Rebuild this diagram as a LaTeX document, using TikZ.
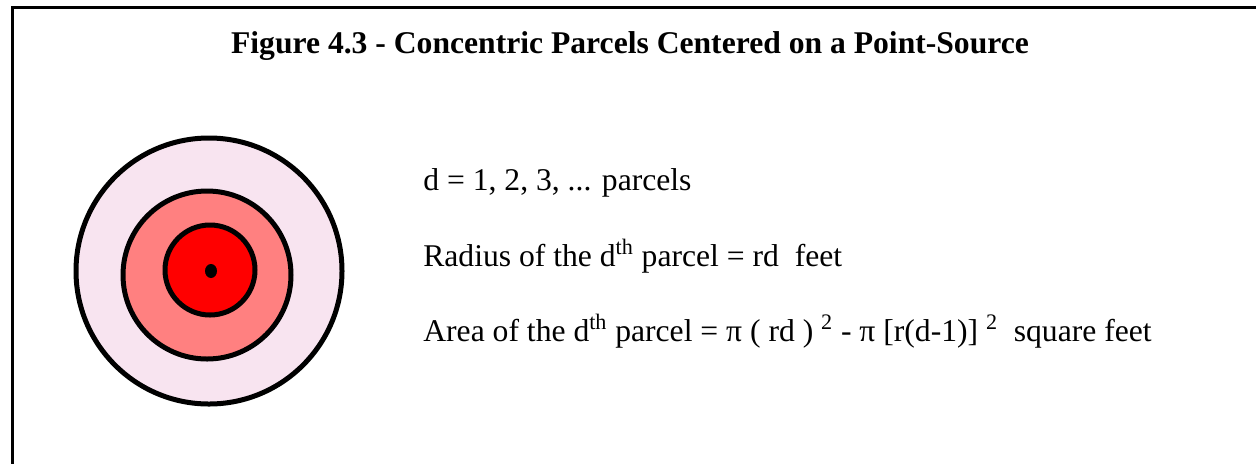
\documentclass[tikz,border=0pt]{standalone}
\usepackage{fontspec}
\setmainfont{Liberation Serif}
\usepackage{xcolor}
\definecolor{plpink}{RGB}{248, 228, 240}
\definecolor{plsalmon}{RGB}{255, 128, 128}
\definecolor{plred}{RGB}{255, 0, 0}
\usepackage{tikz}
\usetikzlibrary{positioning}

\tikzset{
  ring/.style={draw=black, line width=0.1cm},
  bodytext/.style={font=\fontsize{18pt}{21pt}\selectfont, anchor=base west, inner sep=0pt}
}

\begin{document}
\begin{tikzpicture}[x=0.02cm, y=-0.02cm]
  \useasboundingbox (0,0) rectangle (1256,464);
  % Frame -- top and left edges only
  \draw[line width=0.06cm, line join=miter] (1256,7.5) -- (12.5,7.5) -- (12.5,464);

  % Title
  \node[font=\fontsize{18pt}{21pt}\selectfont\bfseries, anchor=base, inner sep=0pt]
       (title) at (630,53) {Figure 4.3 - Concentric Parcels Centered on a Point-Source};

  % Parcels round the point-source
  \draw[ring, fill=plpink]   (209,271) circle (133);
  \draw[ring, fill=plsalmon] (207,275) circle (84);
  \draw[ring, fill=plred]    (210,270) circle (45);
  \fill[black] (211,271) ellipse (6 and 7);

  % Text lines
  \node[bodytext] (dline) at (423,190) {d = 1, 2, 3, ... parcels};
  \node[bodytext] (radius) at (423,266)
       {Radius of the d\textsuperscript{th} parcel = rd\ \ feet};
  \node[bodytext] (area) at (423,341)
       {Area of the d\textsuperscript{th} parcel = π ( rd ) \textsuperscript{2} - π [r(d-1)] \textsuperscript{2}\ \ square feet};
\end{tikzpicture}
\end{document}
